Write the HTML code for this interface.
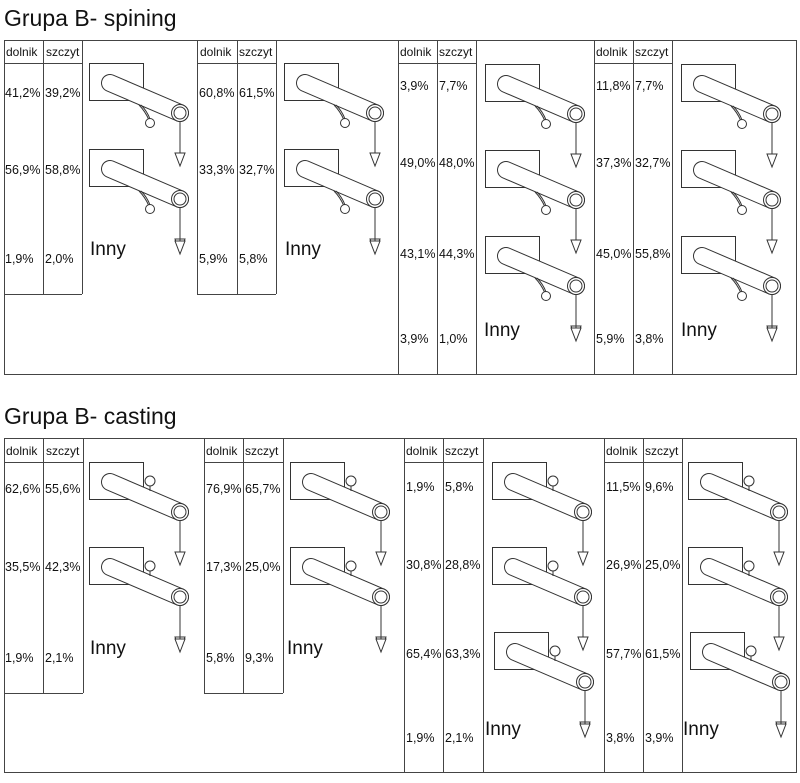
<!DOCTYPE html>
<html><head><meta charset="utf-8"><style>
html,body{margin:0;padding:0;background:#fff}
svg{display:block}
text{font-family:"Liberation Sans",Arial,sans-serif;fill:#111}
.h{font-size:12px}.p{font-size:12.5px}.i{font-size:19px}.t{font-size:23px}
</style></head><body>
<svg width="800" height="783" viewBox="0 0 800 783" xmlns="http://www.w3.org/2000/svg">
<defs>
<g id="tube">
<rect x="0.5" y="0.5" width="54" height="37" fill="none" stroke="#333" stroke-width="1"/>
<line x1="21" y1="20" x2="91" y2="50" stroke="#333" stroke-width="18" stroke-linecap="round"/>
<line x1="21" y1="20" x2="91" y2="50" stroke="#fff" stroke-width="16" stroke-linecap="round"/>
<circle cx="91" cy="50" r="8.5" fill="#fff" stroke="#333"/>
<circle cx="91" cy="50" r="6" fill="none" stroke="#333"/>
<line x1="91" y1="58" x2="91" y2="90" stroke="#333"/>
<path d="M86 90 L96 90 L91 103 Z" fill="#fff" stroke="#333"/>
</g>
<g id="spin">
<use href="#tube"/>
<path d="M50 42 Q56 48 60 57" fill="none" stroke="#333"/>
<path d="M52 42 Q58 48 61 56" fill="none" stroke="#333"/>
<circle cx="61" cy="60" r="4.5" fill="#fff" stroke="#333"/>
</g>
<g id="cast">
<use href="#tube"/>
<circle cx="61" cy="19" r="5" fill="#fff" stroke="#333"/>
<line x1="61" y1="24" x2="61" y2="29" stroke="#333"/>
</g>
<g id="tri"><line x1="91" y1="0" x2="91" y2="6" stroke="#333"/><path d="M86 6 L96 6 L91 19 Z" fill="#fff" stroke="#333"/></g>
</defs>
<g stroke="#444" stroke-width="1" fill="none">
<rect x="4.5" y="40.5" width="792" height="334"/>
<line x1="4" y1="63.5" x2="82" y2="63.5"/><line x1="197" y1="63.5" x2="276" y2="63.5"/>
<line x1="398" y1="63.5" x2="476" y2="63.5"/><line x1="594" y1="63.5" x2="672" y2="63.5"/>
<line x1="43.5" y1="40" x2="43.5" y2="294"/><line x1="82.5" y1="40" x2="82.5" y2="294"/><line x1="4" y1="294.5" x2="82" y2="294.5"/>
<line x1="197.5" y1="40" x2="197.5" y2="294"/><line x1="237.5" y1="40" x2="237.5" y2="294"/><line x1="276.5" y1="40" x2="276.5" y2="294"/><line x1="197" y1="294.5" x2="276" y2="294.5"/>
<line x1="398.5" y1="40" x2="398.5" y2="374"/><line x1="437.5" y1="40" x2="437.5" y2="374"/><line x1="476.5" y1="40" x2="476.5" y2="374"/>
<line x1="594.5" y1="40" x2="594.5" y2="374"/><line x1="633.5" y1="40" x2="633.5" y2="374"/><line x1="672.5" y1="40" x2="672.5" y2="374"/>
<rect x="4.5" y="438.5" width="792" height="334"/>
<line x1="4" y1="462.5" x2="83" y2="462.5"/><line x1="204" y1="462.5" x2="283" y2="462.5"/>
<line x1="404" y1="462.5" x2="483" y2="462.5"/><line x1="604" y1="462.5" x2="682" y2="462.5"/>
<line x1="43.5" y1="438" x2="43.5" y2="693"/><line x1="83.5" y1="438" x2="83.5" y2="693"/><line x1="4" y1="693.5" x2="83" y2="693.5"/>
<line x1="204.5" y1="438" x2="204.5" y2="693"/><line x1="243.5" y1="438" x2="243.5" y2="693"/><line x1="283.5" y1="438" x2="283.5" y2="693"/><line x1="204" y1="693.5" x2="283" y2="693.5"/>
<line x1="404.5" y1="438" x2="404.5" y2="773"/><line x1="443.5" y1="438" x2="443.5" y2="773"/><line x1="483.5" y1="438" x2="483.5" y2="773"/>
<line x1="604.5" y1="438" x2="604.5" y2="773"/><line x1="643.5" y1="438" x2="643.5" y2="773"/><line x1="682.5" y1="438" x2="682.5" y2="773"/>
</g>
<use href="#spin" x="89" y="63"/><use href="#spin" x="89" y="149"/><use href="#tri" x="89" y="235"/>
<use href="#spin" x="284" y="63"/><use href="#spin" x="284" y="149"/><use href="#tri" x="284" y="235"/>
<use href="#spin" x="485" y="64"/><use href="#spin" x="485" y="150"/><use href="#spin" x="485" y="236"/><use href="#tri" x="485" y="322"/>
<use href="#spin" x="681" y="64"/><use href="#spin" x="681" y="150"/><use href="#spin" x="681" y="236"/><use href="#tri" x="681" y="322"/>
<use href="#cast" x="89" y="462"/><use href="#cast" x="89" y="547"/><use href="#tri" x="89" y="633"/>
<use href="#cast" x="290" y="462"/><use href="#cast" x="290" y="547"/><use href="#tri" x="290" y="633"/>
<use href="#cast" x="492" y="462"/><use href="#cast" x="492" y="547"/><use href="#cast" x="494" y="632"/><use href="#tri" x="494" y="718"/>
<use href="#cast" x="688" y="462"/><use href="#cast" x="688" y="547"/><use href="#cast" x="690" y="632"/><use href="#tri" x="690" y="718"/>
<text class="t" x="4" y="26">Grupa B- spining</text>
<text class="t" x="4" y="424">Grupa B- casting</text>
<g class="h"><text x="6" y="56">dolnik</text><text x="46" y="56">szczyt</text>
<text x="200" y="56">dolnik</text><text x="239" y="56">szczyt</text>
<text x="400" y="56">dolnik</text><text x="439" y="56">szczyt</text>
<text x="596" y="56">dolnik</text><text x="635" y="56">szczyt</text></g>
<g class="p">
<text x="5" y="97">41,2%</text><text x="45" y="97">39,2%</text>
<text x="5" y="174">56,9%</text><text x="45" y="174">58,8%</text>
<text x="5" y="263">1,9%</text><text x="45" y="263">2,0%</text>
<text x="199" y="97">60,8%</text><text x="239" y="97">61,5%</text>
<text x="199" y="174">33,3%</text><text x="239" y="174">32,7%</text>
<text x="199" y="263">5,9%</text><text x="239" y="263">5,8%</text>
<text x="400" y="90">3,9%</text><text x="439" y="90">7,7%</text>
<text x="400" y="167">49,0%</text><text x="439" y="167">48,0%</text>
<text x="400" y="258">43,1%</text><text x="439" y="258">44,3%</text>
<text x="400" y="343">3,9%</text><text x="439" y="343">1,0%</text>
<text x="596" y="90">11,8%</text><text x="635" y="90">7,7%</text>
<text x="596" y="167">37,3%</text><text x="635" y="167">32,7%</text>
<text x="596" y="258">45,0%</text><text x="635" y="258">55,8%</text>
<text x="596" y="343">5,9%</text><text x="635" y="343">3,8%</text>
</g>
<g class="i"><text x="90" y="255">Inny</text><text x="285" y="255">Inny</text><text x="484" y="336">Inny</text><text x="681" y="336">Inny</text></g>
<g class="h"><text x="6" y="455">dolnik</text><text x="46" y="455">szczyt</text>
<text x="206" y="455">dolnik</text><text x="245" y="455">szczyt</text>
<text x="406" y="455">dolnik</text><text x="445" y="455">szczyt</text>
<text x="606" y="455">dolnik</text><text x="645" y="455">szczyt</text></g>
<g class="p">
<text x="5" y="493">62,6%</text><text x="45" y="493">55,6%</text>
<text x="5" y="571">35,5%</text><text x="45" y="571">42,3%</text>
<text x="5" y="662">1,9%</text><text x="45" y="662">2,1%</text>
<text x="206" y="493">76,9%</text><text x="245" y="493">65,7%</text>
<text x="206" y="571">17,3%</text><text x="245" y="571">25,0%</text>
<text x="206" y="662">5,8%</text><text x="245" y="662">9,3%</text>
<text x="406" y="491">1,9%</text><text x="445" y="491">5,8%</text>
<text x="406" y="569">30,8%</text><text x="445" y="569">28,8%</text>
<text x="406" y="658">65,4%</text><text x="445" y="658">63,3%</text>
<text x="406" y="742">1,9%</text><text x="445" y="742">2,1%</text>
<text x="606" y="491">11,5%</text><text x="645" y="491">9,6%</text>
<text x="606" y="569">26,9%</text><text x="645" y="569">25,0%</text>
<text x="606" y="658">57,7%</text><text x="645" y="658">61,5%</text>
<text x="606" y="742">3,8%</text><text x="645" y="742">3,9%</text>
</g>
<g class="i"><text x="90" y="654">Inny</text><text x="287" y="654">Inny</text><text x="485" y="735">Inny</text><text x="683" y="735">Inny</text></g>
</svg>
</body></html>
